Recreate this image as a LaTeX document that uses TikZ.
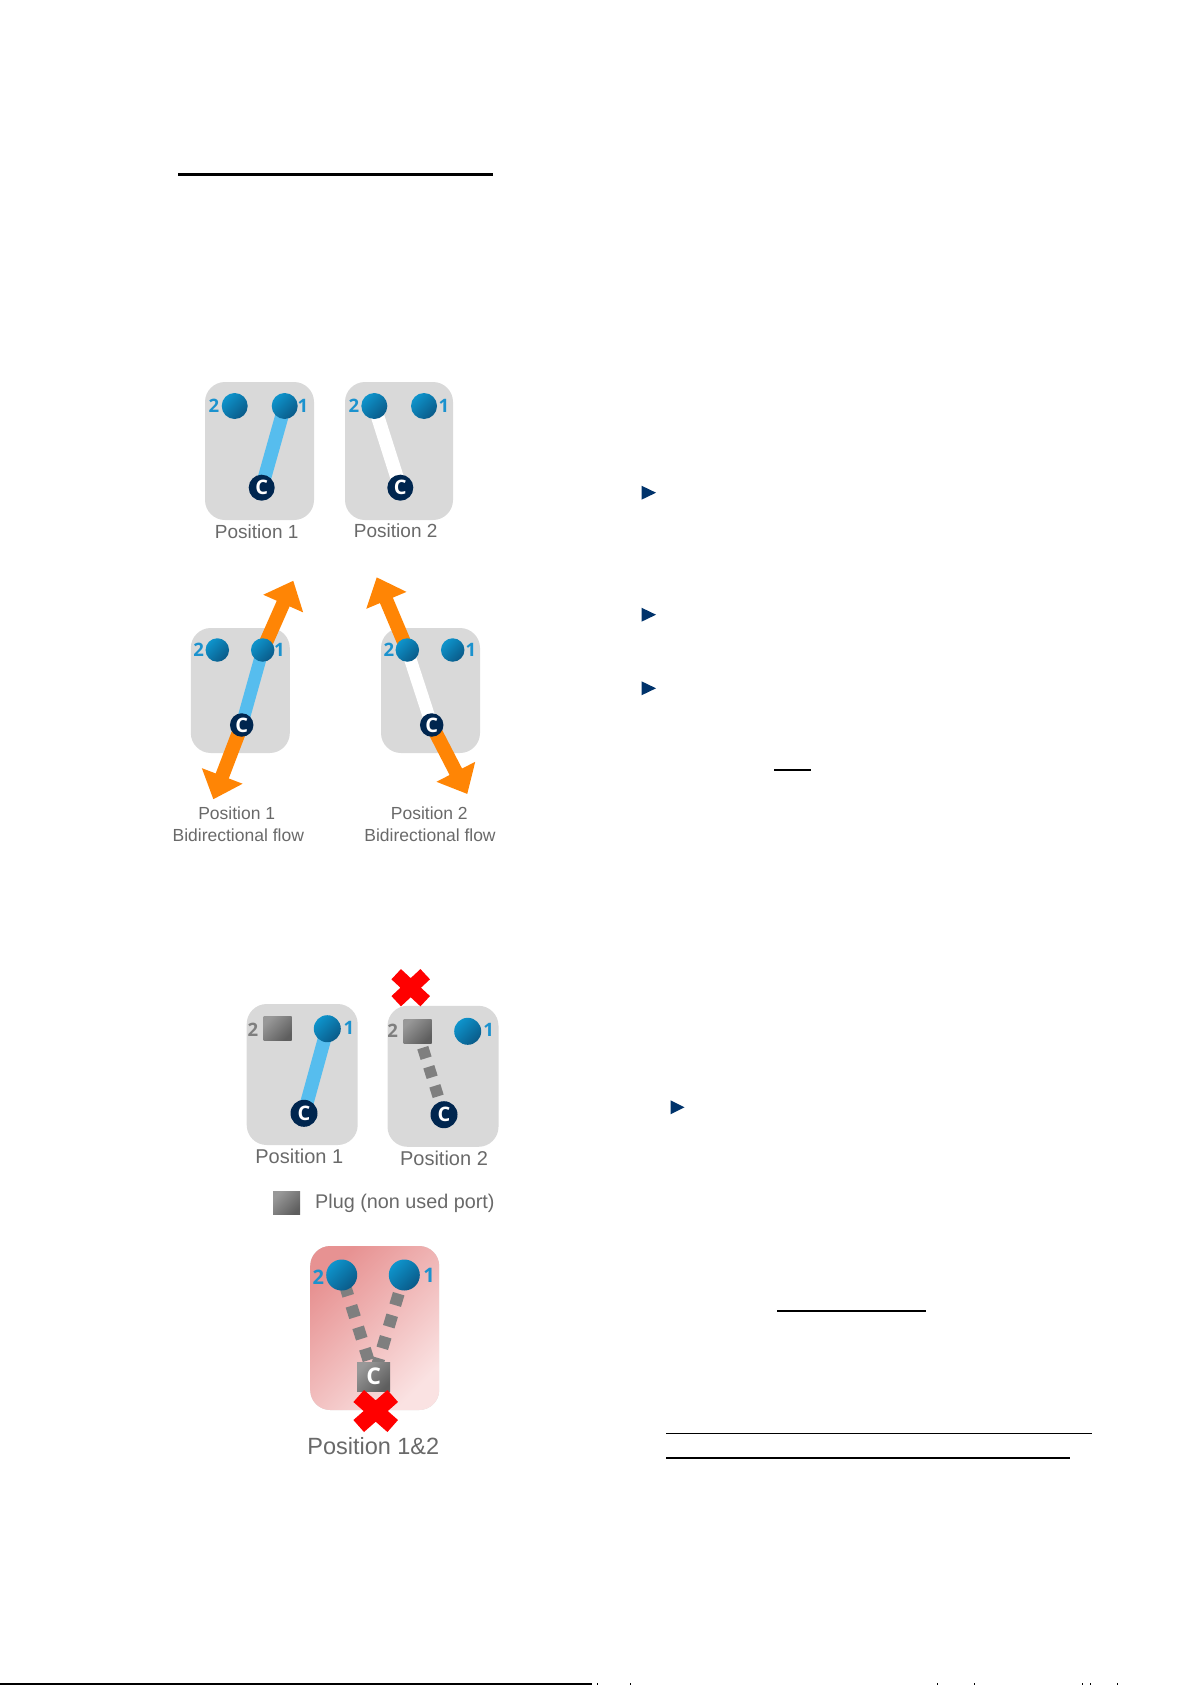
\documentclass[tikz,border=0pt]{standalone}
\usepackage{fontspec}
\setmainfont{Liberation Sans}
\newfontfamily\portfont{Open Sans}
\usetikzlibrary{arrows.meta,shapes.misc}
\definecolor{boxgray}{HTML}{D9D9D9}
\definecolor{labelgray}{HTML}{696969}
\definecolor{portlight}{HTML}{0E94CC}
\definecolor{portdark}{HTML}{0A5A88}
\definecolor{portnum}{HTML}{1B92CE}
\definecolor{comnavy}{HTML}{00264F}
\definecolor{linkblue}{HTML}{56BDEE}
\definecolor{floworange}{HTML}{FF8505}
\definecolor{dotgray}{HTML}{7F7F7F}
\definecolor{plugpale}{HTML}{989898}
\definecolor{plugdark}{HTML}{5E5E5E}
\definecolor{marknavy}{HTML}{00336B}
\definecolor{alarmtop}{HTML}{E79292}
\definecolor{alarmend}{HTML}{FAE2E2}
\pgfdeclarelayer{boxes}
\pgfdeclarelayer{links}
\pgfsetlayers{boxes,links,main}
\tikzset{
  valvebox/.style={fill=boxgray,rounded corners=20pt,inner sep=0pt},
  port/.style={circle,inner sep=0pt,minimum size=#1,shading=axis,top color=portlight,bottom color=portdark,shading angle=45},
  com/.style={circle,inner sep=0pt,minimum size=#1,fill=comnavy,text=white,font=\portfont\bfseries\fontsize{20}{20}\selectfont},
  plug/.style={rectangle,inner sep=0pt,shading=axis,top color=plugpale,bottom color=plugdark,shading angle=45},
  num/.style={text=portnum,inner sep=0pt,font=\portfont\bfseries\fontsize{18.5}{18.5}\selectfont},
  gnum/.style={text=dotgray,inner sep=0pt,font=\portfont\bfseries\fontsize{18.5}{18.5}\selectfont},
  caption/.style={text=labelgray,inner sep=0pt,font=\fontsize{#1}{#1}\selectfont},
  link/.style={line width=13.5pt},
  flow/.style={line width=14pt,floworange,-{Triangle[length=25pt,width=42pt]}},
  dots/.style={line width=11.5pt,dotgray},
  redcross/.style={cross out,draw=red,inner sep=0pt,outer sep=0pt,line width=#1},
  bulletmark/.style={fill=marknavy,draw=none},
  rule/.style={line width=1.6pt}
}
\begin{document}
\begin{tikzpicture}[x=1pt,y=-1pt]
\useasboundingbox (0,0) rectangle (1191,1685);

% page rules
\draw[line width=2.4pt] (178,174.7) -- (493,174.7);
\draw[rule] (774,770) -- (811,770);
\draw[rule] (777,1311) -- (926,1311);
\draw[rule] (666,1433.3) -- (1092,1433.3);
\draw[rule] (666,1457.7) -- (1070,1457.7);
\draw[line width=2pt] (0,1684) -- (592,1684);
\foreach \x in {596.5,630,936.5,974,1082,1090,1116.5}
  \fill (\x,1683) rectangle +(1,2);

% bullets
\fill[bulletmark] (641.5,485.7) -- (656,492.7) -- (641.5,499.7) -- cycle;
\fill[bulletmark] (641.5,607.7) -- (656,614.7) -- (641.5,621.7) -- cycle;
\fill[bulletmark] (641.5,681.3) -- (656,688.3) -- (641.5,695.3) -- cycle;
\fill[bulletmark] (670.5,1100.3) -- (684.5,1107.3) -- (670.5,1114.3) -- cycle;

% first row
\begin{pgfonlayer}{boxes}
\node[valvebox,minimum width=109pt,minimum height=138pt] (boxA) at (259.5,451) {};
\node[valvebox,minimum width=108pt,minimum height=138pt] (boxB) at (399,451) {};
\end{pgfonlayer}
\node[port=26pt] (a2) at (234.7,406) {};
\node[port=26pt] (a1) at (284.7,406) {};
\node[com=26pt] (ac) at (261.7,487.7) {C};
\node[port=26pt] (b2) at (374.3,406) {};
\node[port=26pt] (b1) at (424,406) {};
\node[com=26pt] (bc) at (400.3,487.7) {C};
\node[num] (a2n) at (214,406) {2};
\node[num] (a1n) at (303,406) {1};
\node[num] (b2n) at (354,406) {2};
\node[num] (b1n) at (444,406) {1};
\node[caption=19] (capA) at (256.7,532) {Position 1};
\node[caption=19] (capB) at (395.7,531) {Position 2};
\begin{pgfonlayer}{links}
\draw[link,linkblue] (a1.center) -- (ac.center);
\draw[link,white] (b2.center) -- (bc.center);
\end{pgfonlayer}

% second row, both flows
\begin{pgfonlayer}{boxes}
\node[valvebox,minimum width=99pt,minimum height=125pt] (boxC) at (240.3,690.5) {};
\node[valvebox,minimum width=99pt,minimum height=125pt] (boxD) at (430.5,690.5) {};
\end{pgfonlayer}
\node[port=23.5pt] (c2) at (217.3,650) {};
\node[port=23.5pt] (c1) at (262.7,650) {};
\node[com=23.5pt] (cc) at (241.7,725) {C};
\node[port=23.5pt] (d2) at (407.3,650) {};
\node[port=23.5pt] (d1) at (452.7,650) {};
\node[com=23.5pt] (dc) at (431.7,725) {C};
\node[num] (c2n) at (198.7,650) {2};
\node[num] (c1n) at (279.3,650) {1};
\node[num] (d2n) at (389,650) {2};
\node[num] (d1n) at (471,650) {1};
\coordinate (cup) at (293.3,580.7);
\coordinate (cdown) at (213.3,799.3);
\coordinate (dup) at (376.7,577.3);
\coordinate (ddown) at (467.3,794);
\node[caption=17.5] (capC) at (236.7,813) {Position 1};
\node[caption=17.5] (capCb) at (238.3,835.7) {Bidirectional flow};
\node[caption=17.5] (capD) at (429.3,813) {Position 2};
\node[caption=17.5] (capDb) at (430,835.7) {Bidirectional flow};
\begin{pgfonlayer}{links}
\draw[link,linkblue,line width=12.5pt] (c1.center) -- (cc.center);
\draw[link,white,line width=12.5pt] (d2.center) -- (dc.center);
\draw[flow] (c1.center) -- (cup);
\draw[flow] (cc.center) -- (cdown);
\draw[flow] (d2.center) -- (dup);
\draw[flow] (dc.center) -- (ddown);
\end{pgfonlayer}

% plugged port
\begin{pgfonlayer}{boxes}
\node[valvebox,minimum width=111pt,minimum height=141pt] (boxE) at (302.2,1074.5) {};
\node[valvebox,minimum width=111pt,minimum height=141pt] (boxF) at (443,1076.3) {};
\end{pgfonlayer}
\node[plug,minimum width=28pt,minimum height=24pt] (e2) at (277.5,1028.7) {};
\node[port=27pt] (e1) at (327.3,1028.7) {};
\node[com=27pt] (ec) at (304,1113.3) {C};
\node[plug,minimum width=28pt,minimum height=24pt] (f2) at (417.5,1031) {};
\node[port=27pt] (f1) at (467.7,1031.3) {};
\node[com=27pt] (fc) at (444,1114.7) {C};
\node[gnum] (e2n) at (253,1030) {2};
\node[num] (e1n) at (349,1028) {1};
\node[gnum] (f2n) at (392.7,1031) {2};
\node[num] (f1n) at (488.7,1030) {1};
\node[redcross=14pt,minimum width=29pt,minimum height=27pt] (fx) at (410.7,987.7) {};
\node[caption=20] (capE) at (299.3,1156.7) {Position 1};
\node[caption=20] (capF) at (444,1158.3) {Position 2};
\node[plug,minimum width=27pt,minimum height=23pt] (legend) at (286.7,1203) {};
\node[caption=19.8,anchor=west] (legendt) at (315,1203) {Plug (non used port)};
\begin{pgfonlayer}{links}
\draw[link,linkblue] (e1.center) -- (ec.center);
\draw[dots,dash pattern=on 11pt off 9pt,dash phase=2.5pt] (f2.center) -- (fc.center);
\end{pgfonlayer}

% both ports at once
\begin{pgfonlayer}{boxes}
\node[valvebox,minimum width=129pt,minimum height=164pt,shading=axis,top color=alarmtop,bottom color=alarmend,shading angle=45] (boxG) at (374.7,1328) {};
\end{pgfonlayer}
\node[port=31pt] (g2) at (341.7,1275) {};
\node[port=31pt] (g1) at (404.3,1275) {};
\node[plug,minimum width=33pt,minimum height=29pt,text=white,font=\portfont\bfseries\fontsize{23}{23}\selectfont] (gc) at (373.7,1376.7) {C};
\node[num,font=\portfont\bfseries\fontsize{20}{20}\selectfont] (g2n) at (318.3,1277) {2};
\node[num,font=\portfont\bfseries\fontsize{20}{20}\selectfont] (g1n) at (429,1275) {1};
\node[redcross=16pt,minimum width=34pt,minimum height=30pt] (gx) at (375.7,1411) {};
\node[caption=23.5] (capG) at (373.3,1445.7) {Position 1\&2};
\begin{pgfonlayer}{links}
\draw[dots,line width=12pt,dash pattern=on 12pt off 10.5pt,dash phase=12.7pt] (g2.center) -- (gc.center);
\draw[dots,line width=12pt,dash pattern=on 12pt off 10.5pt,dash phase=3pt] (g1.center) -- (gc.center);
\end{pgfonlayer}
\end{tikzpicture}
\end{document}
